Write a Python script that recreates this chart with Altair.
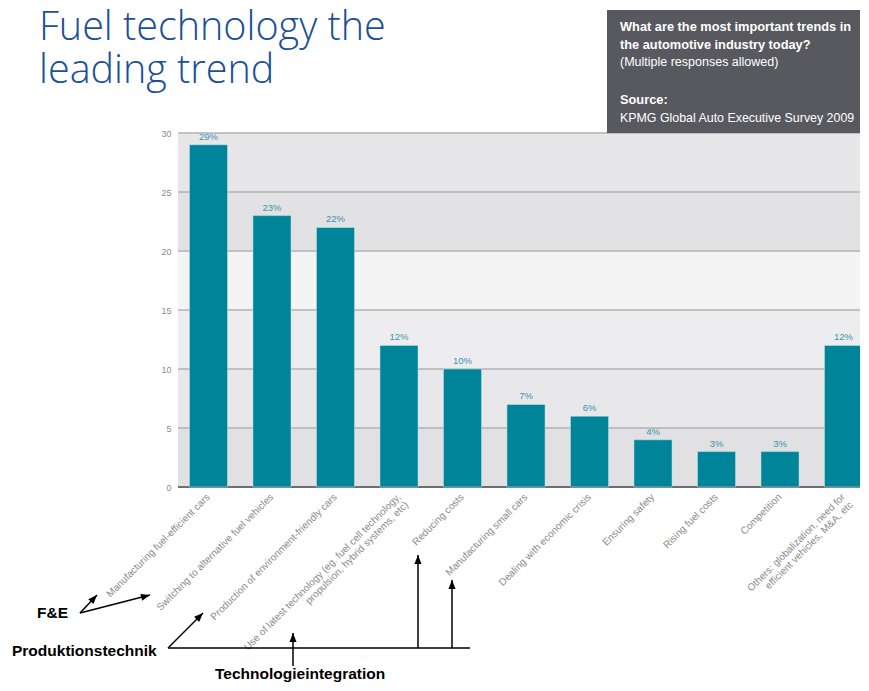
import altair as alt
import pandas as pd

# ---- data ----
categories = [
    "Manufacturing fuel-efficient cars",
    "Switching to alternative fuel vehicles",
    "Production of environment-friendly cars",
    "Use of latest technology (eg. fuel cell technology,\npropulsion, hybrid systems, etc)",
    "Reducing costs",
    "Manufacturing small cars",
    "Dealing with economic crisis",
    "Ensuring safety",
    "Rising fuel costs",
    "Competition",
    "Others: globalization, need for\nefficient vehicles, M&A, etc",
]
values = [29, 23, 22, 12, 10, 7, 6, 4, 3, 3, 12]
value_labels = ["29%", "23%", "22%", "12%", "10%", "7%", "6%", "4%", "3%", "3%", "12%"]

band_lo = [0, 5, 10, 15, 20, 25]
band_hi = [5, 10, 15, 20, 25, 30]
band_col = ["#e1e1e3", "#e8e8ea", "#ededef", "#f4f4f4", "#e2e2e4", "#e7e7e9"]
grid_vals = [5, 10, 15, 20, 25, 30]
y_ticks = [0, 5, 10, 15, 20, 25, 30]

title_lines = "Fuel technology the\nleading trend"
box_bold = ["What are the most important trends in", "the automotive industry today?"]
box_normal = "(Multiple responses allowed)"
box_source = "Source:"
box_source_text = "KPMG Global Auto Executive Survey 2009"

W, H = 682, 354
TEAL = "#00849a"

df = pd.DataFrame({"cat": categories, "val": values, "lab": value_labels})
bands = pd.DataFrame({"lo": band_lo, "hi": band_hi, "col": band_col})
grid = pd.DataFrame({"g": grid_vals})
one = pd.DataFrame({"a": [0]})

yscale = alt.Scale(domain=[0, 30], nice=False, zero=True)
xscale = alt.Scale(range=[0, 696], paddingInner=0.4, paddingOuter=0.18)

band_layer = alt.Chart(bands).mark_rect().encode(
    x=alt.value(0), x2=alt.value(W),
    y=alt.Y("lo:Q", scale=yscale,
            axis=alt.Axis(values=y_ticks, ticks=False, domain=False, grid=False,
                          labelColor="#8a8a8a", labelFontSize=9, labelPadding=7,
                          labelFont="Liberation Sans", title=None)),
    y2="hi:Q",
    color=alt.Color("col:N", scale=None),
)

grid_layer = alt.Chart(grid).mark_rule(color="#b2b2b4", strokeWidth=1.6).encode(
    x=alt.value(0), x2=alt.value(W), y=alt.Y("g:Q", scale=yscale)
)

base_rule = alt.Chart(one).mark_rule(color="#6e6e70", strokeWidth=2).encode(
    x=alt.value(0), x2=alt.value(W), y=alt.value(H)
)

bars = alt.Chart(df).mark_bar(color=TEAL, stroke="#d8e8ec", strokeWidth=0.5).encode(
    x=alt.X("cat:N", sort=None, scale=xscale,
            axis=alt.Axis(labelAngle=315, labelAlign="right", labelBaseline="middle",
                          labelExpr="split(datum.label, '\\n')", labelLineHeight=11,
                          labelColor="#8a8a8a", labelFontSize=10, labelFont="Liberation Sans",
                          labelPadding=8, ticks=False, domain=False, title=None,
                          labelLimit=400)),
    y=alt.Y("val:Q", scale=yscale),
)

bar_text = alt.Chart(df).mark_text(
    color="#3a95aa", fontSize=9.5, font="Liberation Sans", baseline="bottom", dy=-3
).encode(
    x=alt.X("cat:N", sort=None, scale=xscale),
    y=alt.Y("val:Q", scale=yscale),
    text="lab:N",
)

# ---- decorations outside the plot ----
title = alt.Chart(one).mark_text(
    text=title_lines.split("\n"), align="left", baseline="alphabetic",
    fontSize=39.5, font="Open Sans", fontWeight=300, color="#1b4f96", lineHeight=43
).encode(x=alt.value(-139), y=alt.value(-93))

box = alt.Chart(one).mark_rect(color="#58595e").encode(
    x=alt.value(429), x2=alt.value(W + 2), y=alt.value(-123), y2=alt.value(0)
)

def txt(s, x, y, size=12, weight="normal", color="white", font="Liberation Sans", align="left",
        baseline="alphabetic"):
    return alt.Chart(one).mark_text(
        text=s, align=align, baseline=baseline, fontSize=size, fontWeight=weight,
        color=color, font=font
    ).encode(x=alt.value(x), y=alt.value(y))

box_texts = [
    txt(box_bold[0], 442, -102, 12.8, "bold"),
    txt(box_bold[1], 442, -84, 12.8, "bold"),
    txt(box_normal, 442, -67, 12.5),
    txt(box_source, 442, -29, 12.8, "bold"),
    txt(box_source_text, 442, -11, 12.4),
]

def seg(x1, y1, x2, y2):
    return alt.Chart(one).mark_rule(color="black", strokeWidth=1.5).encode(
        x=alt.value(x1), y=alt.value(y1), x2=alt.value(x2), y2=alt.value(y2)
    )

ARROW = "M0,0 L0.75,1.9 L-0.75,1.9 Z"

def head(x, y, ang):
    return alt.Chart(one).mark_point(
        shape=ARROW, filled=True, size=90, angle=ang, color="black", opacity=1, strokeWidth=0
    ).encode(x=alt.value(x), y=alt.value(y))

annot = [
    seg(-98, 480, -81, 462), head(-81, 462, 43),
    seg(-98, 480, -28, 462), head(-28, 462, 75),
    seg(-10, 515, 292, 515),
    seg(-10, 515, 25, 480), head(25, 480, 45),
    seg(115, 533, 115, 500), head(115, 500, 0),
    seg(240, 515, 240, 422), head(240, 422, 0),
    seg(274, 515, 274, 447), head(274, 447, 0),
    txt("F&E", -141, 480, 15.5, "bold", "black", "Liberation Sans", "left", "middle"),
    txt("Produktionstechnik", -166, 518, 15.5, "bold", "black", "Liberation Sans", "left", "middle"),
    txt("Technologieintegration", 37, 546, 15.5, "bold", "black", "Liberation Sans", "left",
        "alphabetic"),
]

chart = alt.layer(
    band_layer, grid_layer, base_rule, bars, bar_text, title, box, *box_texts, *annot
).properties(
    width=W, height=H,
    padding={"left": 170, "top": 125, "right": 0, "bottom": 196},
    autosize=alt.AutoSizeParams(type="none"),
).configure_view(stroke=None).configure(background="white")

chart.save("out.html", embed_options={"renderer": "svg", "actions": False})
